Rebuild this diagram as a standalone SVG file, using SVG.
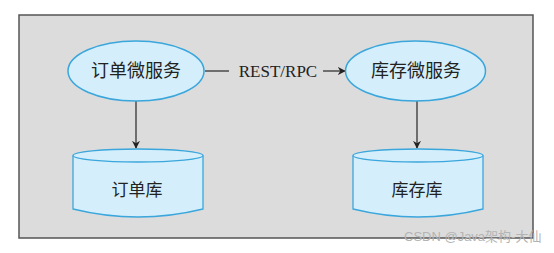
<svg xmlns="http://www.w3.org/2000/svg" width="554" height="253" viewBox="0 0 554 253">
<defs>
<style>
.frame{fill:#dcdcdc;stroke:#555;stroke-width:1.5}
.svc{fill:#d4effb;stroke:#3aa6dc;stroke-width:1.5}
.db{fill:#d4effb;stroke:#3aa6dc;stroke-width:1.3}
.lbl{font-family:"Liberation Serif","Noto Sans CJK SC",serif;font-size:18px;fill:#222;text-anchor:middle;dominant-baseline:central}
.edge{stroke:#333;stroke-width:1.3;fill:none}
.wm{font-family:"Liberation Sans","Noto Sans CJK SC",sans-serif;font-size:13px;fill:#b4b4b4}
</style>
<marker id="ah" viewBox="0 0 10 10" refX="9" refY="5" markerWidth="8" markerHeight="8" markerUnits="userSpaceOnUse" orient="auto">
<path d="M0,0 L10,5 L0,10 L3,5 z" fill="#222"/>
</marker>
</defs>
<rect class="frame" x="19" y="15" width="514" height="223"/>
<g id="connectors">
<line class="edge" x1="205" y1="71" x2="229" y2="71"/>
<text class="lbl" x="278" y="71" style="font-size:17px">REST/RPC</text>
<line class="edge" x1="323" y1="71" x2="345" y2="71" marker-end="url(#ah)"/>
<line class="edge" x1="136" y1="101" x2="136" y2="148" marker-end="url(#ah)"/>
<line class="edge" x1="417" y1="101" x2="417" y2="148" marker-end="url(#ah)"/>
</g>
<g id="order-service">
<ellipse class="svc" cx="136" cy="71" rx="68" ry="30"/>
<text class="lbl" x="136" y="71">订单微服务</text>
</g>
<g id="stock-service">
<ellipse class="svc" cx="415.5" cy="71" rx="70" ry="30"/>
<text class="lbl" x="416" y="71">库存微服务</text>
</g>
<g id="order-db">
<path class="db" d="M73,155.5 L73,209 Q138,225 203,209 L203,155.5"/>
<ellipse class="db" cx="138" cy="155.5" rx="65" ry="6.5"/>
<text class="lbl" x="137" y="190" style="font-size:17px">订单库</text>
</g>
<g id="stock-db">
<path class="db" d="M353,155.5 L353,209 Q418,225 483,209 L483,155.5"/>
<ellipse class="db" cx="418" cy="155.5" rx="65" ry="6.5"/>
<text class="lbl" x="417" y="190" style="font-size:17px">库存库</text>
</g>
<text class="wm" x="404" y="241">CSDN @Java架构-大仙</text>
</svg>
